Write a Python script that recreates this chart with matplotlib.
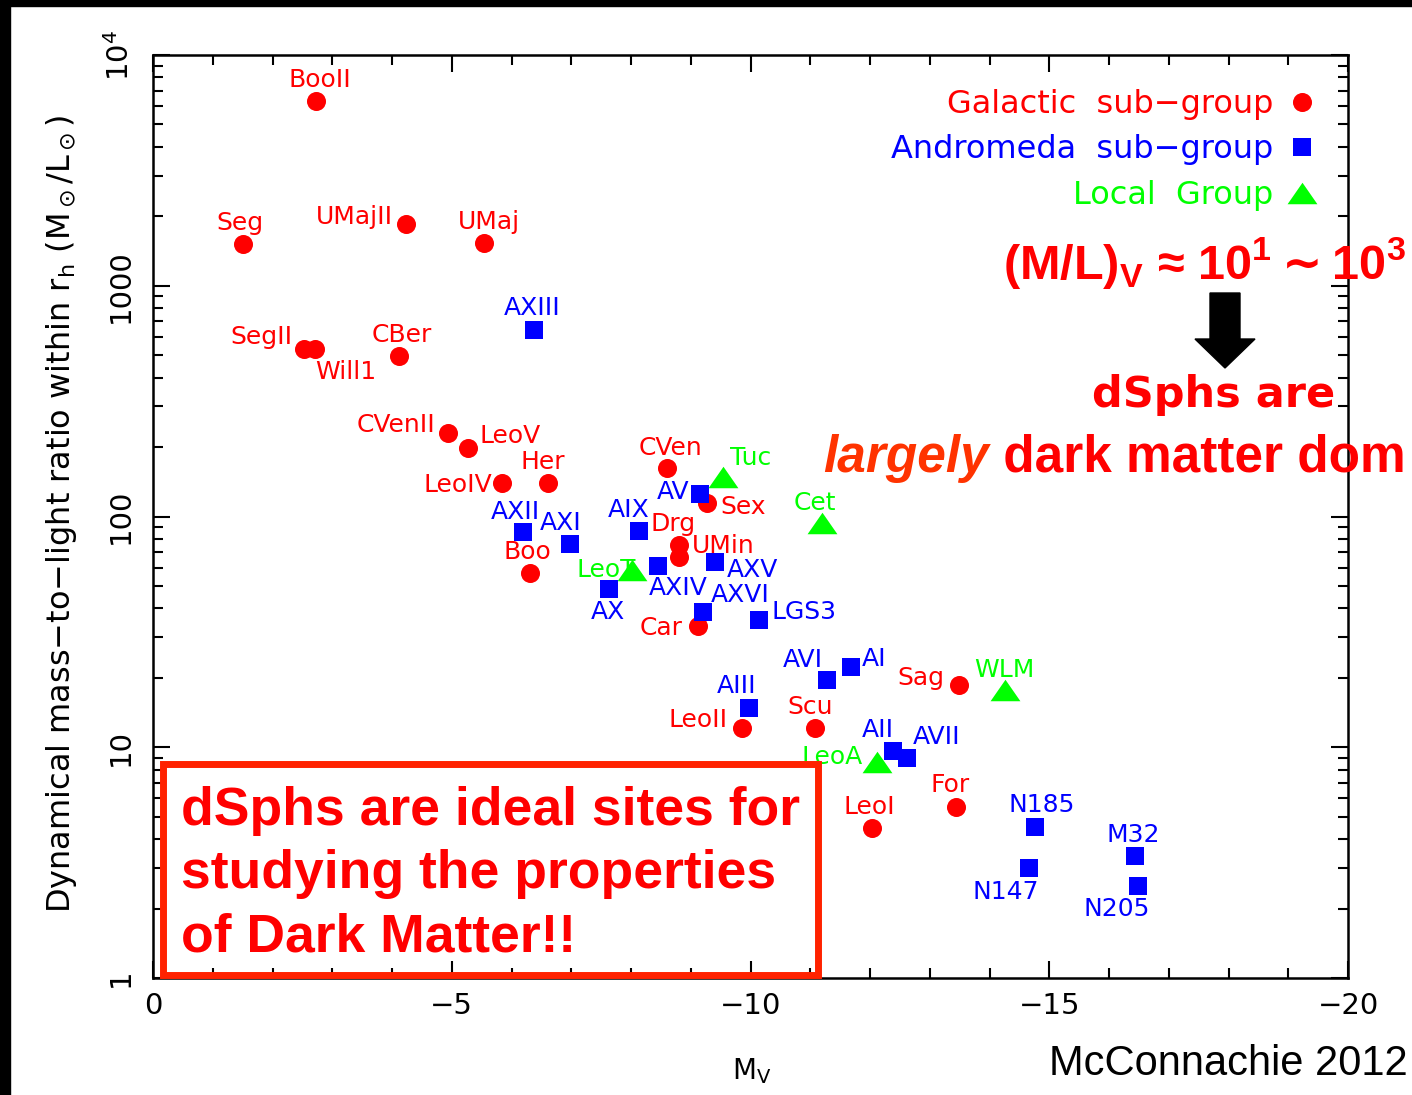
import matplotlib
matplotlib.use("Agg")
import matplotlib.pyplot as plt
import matplotlib.patches as mpatches
import matplotlib.transforms as mtransforms
from matplotlib.ticker import MultipleLocator, LogLocator, FixedLocator, NullFormatter

W, H = 1412, 1095

# Galactic sub-group (red circles)
gal_names = ["BooII", "Seg", "UMajII", "UMaj", "SegII", "Will1", "CBer", "CVenII",
             "LeoV", "LeoIV", "Her", "CVen", "Sex", "Drg", "UMin", "Boo", "Car",
             "Sag", "LeoII", "Scu", "LeoI", "For"]
gal_mv = [-2.73, -1.51, -4.23, -5.54, -2.53, -2.71, -4.12, -4.94,
          -5.27, -5.84, -6.61, -8.60, -9.27, -8.80, -8.80, -6.31, -9.12,
          -13.49, -9.86, -11.08, -12.03, -13.44]
gal_ml = [6320, 1517, 1853, 1532, 532, 532, 496, 230,
          198, 140, 140, 162, 114, 75, 67, 57, 33.5,
          18.6, 12.1, 12.1, 4.47, 5.51]

# Andromeda sub-group (blue squares)
and_names = ["AXIII", "AXII", "AXI", "AIX", "AV", "AXIV", "AXV", "AX", "AXVI",
             "LGS3", "AVI", "AI", "AIII", "AII", "AVII", "N185", "N147", "M32", "N205"]
and_mv = [-6.38, -6.19, -6.98, -8.13, -9.15, -8.45, -9.41, -7.63, -9.21,
          -10.14, -11.28, -11.68, -9.97, -12.38, -12.62, -14.76, -14.66, -16.43, -16.49]
and_ml = [643, 85.7, 76.0, 86.5, 125, 61.0, 63.5, 48.5, 38.6,
          35.6, 19.6, 22.3, 14.8, 9.64, 8.98, 4.51, 3.0, 3.38, 2.5]

# Local Group (green triangles)
lg_names = ["Tuc", "Cet", "LeoT", "WLM", "LeoA"]
lg_mv = [-9.54, -11.20, -8.02, -14.26, -12.12]
lg_ml = [148, 93.7, 58.6, 17.7, 8.63]

legend_labels = ["Galactic  sub\u2212group", "Andromeda  sub\u2212group", "Local  Group"]
yticks = [1, 10, 100, 1000, 1e4]
yticklabels = ["1", "10", "100", "1000", r"$10^4$"]

# label offsets in pixels (dx, dy up, ha)
LABEL_POS = {
    "BooII": (4, 21, "center"), "Seg": (-3, 21, "center"), "UMajII": (-13, 7, "right"),
    "UMaj": (5, 21, "center"), "SegII": (-12, 12, "right"), "Will1": (0, -23, "left"),
    "CBer": (3, 21, "center"), "CVenII": (-13, 8, "right"), "LeoV": (12, 12, "left"),
    "LeoIV": (-10, -2, "right"), "Her": (-5, 21, "center"), "CVen": (4, 20, "center"),
    "Sex": (13, -4, "left"), "Drg": (-6, 21, "center"), "UMin": (13, 11, "left"),
    "Boo": (-3, 21, "center"), "Car": (-15, -2, "right"), "Sag": (-15, 7, "right"),
    "LeoII": (-15, 8, "right"), "Scu": (-5, 21, "center"), "LeoI": (-2, 21, "center"),
    "For": (-6, 22, "center"),
    "AXIII": (-2, 22, "center"), "AXII": (-7, 20, "center"), "AXI": (-9, 21, "center"),
    "AIX": (-10, 21, "center"), "AV": (-10, 2, "right"), "AXIV": (20, -22, "center"),
    "AXV": (12, -8, "left"), "AX": (-1, -23, "center"), "AXVI": (7, 17, "left"),
    "LGS3": (13, 8, "left"), "AVI": (-4, 20, "right"), "AI": (11, 8, "left"),
    "AIII": (-12, 22, "center"), "AII": (-15, 21, "center"), "AVII": (6, 21, "left"),
    "N185": (7, 22, "center"), "N147": (-23, -24, "center"), "M32": (-1, 21, "center"),
    "N205": (-22, -23, "center"),
    "Tuc": (7, 19, "left"), "Cet": (-7, 20, "center"), "LeoT": (4, 0, "right"),
    "WLM": (-1, 20, "center"), "LeoA": (-14, 5, "right"),
}

RED, BLUE, GREEN = "#ff0000", "#0000ff", "#00ff00"
TRI = [(0, 0.72), (-1, -0.72), (1, -0.72)]

fig = plt.figure(figsize=(W / 100, H / 100), dpi=100)
# pixel coords measured from the top-left corner of the image
tp = mtransforms.Affine2D().scale(1 / W, -1 / H).translate(0, 1) + fig.transFigure

fig.add_artist(mpatches.Rectangle((0, 0), W, 6, transform=tp, color="black"))
fig.add_artist(mpatches.Rectangle((0, 0), 10, H, transform=tp, color="black"))

ax = fig.add_axes([153 / W, 1 - 978 / H, 1195 / W, 923 / H])
ax.set_yscale("log")
ax.set_xlim(0, -20)
ax.set_ylim(1, 1e4)

groups = [
    (gal_names, gal_mv, gal_ml, RED, "o", 13.7, legend_labels[0]),
    (and_names, and_mv, and_ml, BLUE, "s", 12.5, legend_labels[1]),
    (lg_names, lg_mv, lg_ml, GREEN, TRI, 21.5, legend_labels[2]),
]
for names, mv, ml, col, mk, ms, lab in groups:
    ax.plot(mv, ml, ls="none", marker=mk, ms=ms, color=col, mec=col, mew=0,
            label=lab, zorder=3)
    for n, x, y in zip(names, mv, ml):
        dx, dy, ha = LABEL_POS[n]
        ax.annotate(n, (x, y), xytext=(dx, dy), textcoords="offset pixels",
                    ha=ha, va="center", color=col, fontsize=18, zorder=2)

ax.xaxis.set_major_locator(MultipleLocator(5))
ax.xaxis.set_minor_locator(MultipleLocator(1))
ax.yaxis.set_major_locator(FixedLocator(yticks))
ax.yaxis.set_minor_locator(LogLocator(base=10, subs=range(2, 10)))
ax.yaxis.set_minor_formatter(NullFormatter())
ax.set_yticks(yticks, labels=yticklabels)
ax.tick_params(which="both", direction="in", top=True, right=True, width=1.5)
ax.tick_params(which="major", length=12.5, labelsize=21)
ax.tick_params(which="minor", length=7)
ax.tick_params(axis="x", pad=10)
ax.tick_params(axis="y", pad=13, labelrotation=90)
for lab in ax.get_yticklabels():
    lab.set_va("center")
for s in ax.spines.values():
    s.set_linewidth(1.8)

ax.set_xlabel(r"M$_\mathregular{V}$", fontsize=20)
ax.xaxis.set_label_coords((752 - 153) / 1195, (978 - 1056) / 923)
ax.set_ylabel(r"Dynamical mass$-$to$-$light ratio within r$_\mathregular{h}$ (M$_\odot$/L$_\odot$)",
              fontsize=23)
ax.yaxis.label.set_va("center")
ax.yaxis.set_label_coords((62 - 153) / 1195, (978 - 514) / 923)

ax.legend(loc="upper right", bbox_to_anchor=((1318 - 153) / 1195, (978 - 89) / 923),
          frameon=False, markerfirst=False, numpoints=1, handlelength=1.0,
          handletextpad=0.4, labelspacing=0.45, borderpad=0, borderaxespad=0,
          fontsize=23, labelcolor=[RED, BLUE, GREEN])

# slide overlays
fig.text(1003, 280, r"(M/L)$_\mathregular{V}$ ≈ 10$^\mathregular{1}$$\mathbf{\sim}$10$^\mathregular{3}$",
         transform=tp, fontsize=35, family="Liberation Sans", weight="bold",
         color=RED, ha="left", va="baseline")
fig.add_artist(mpatches.FancyArrow(1225, 293, 0, 75, width=30, head_width=60,
                                   head_length=29, length_includes_head=True,
                                   transform=tp, color="black"))
fig.text(1335, 407, "dSphs are", transform=tp, fontsize=31, family="DejaVu Sans",
         weight="bold", color=RED, ha="right", va="baseline")
t_lg = fig.text(823, 472, "largely", transform=tp, fontsize=37, family="Liberation Sans",
                weight="bold", style="italic", color="#ff3300", ha="left", va="baseline")
fig.add_artist(plt.Annotation(" dark matter dom", xy=(1, 0), xycoords=t_lg, va="bottom",
                              ha="left", fontsize=37, family="Liberation Sans",
                              weight="bold", color=RED))

fig.add_artist(mpatches.Rectangle((162.5, 763.5), 655, 211.5, transform=tp, fill=False,
                                  edgecolor="#ff2200", linewidth=5))
box_lines = ["dSphs are ideal sites for", "studying the properties", "of Dark Matter!!"]
for i, line in enumerate(box_lines):
    fig.text(181, 825 + 63 * i, line, transform=tp, fontsize=38.5, family="Liberation Sans",
             weight="bold", color=RED, ha="left", va="baseline")

fig.text(1408, 1075, "McConnachie 2012", transform=tp, fontsize=30,
         family="Liberation Sans", color="black", ha="right", va="baseline")

fig.savefig("out.png", dpi=100)
